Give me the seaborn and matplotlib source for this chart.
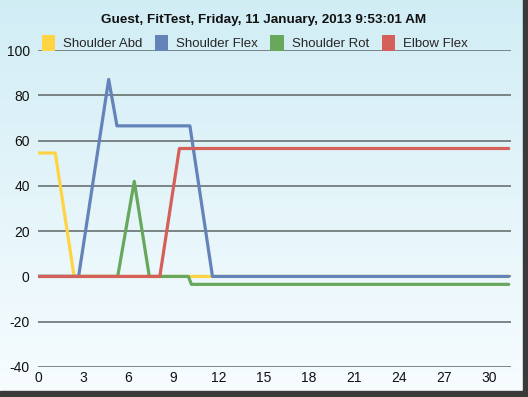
import numpy as np
import pandas as pd
import matplotlib
matplotlib.use("Agg")
import matplotlib.pyplot as plt
from matplotlib.patches import Patch, Rectangle
import seaborn as sns

title = "Guest, FitTest, Friday, 11 January, 2013 9:53:01 AM"
series = ["Shoulder Abd", "Shoulder Flex", "Shoulder Rot", "Elbow Flex"]
colors = ["#ffd443", "#6383b9", "#67a85d", "#d5605a"]

abd_t = [0.0, 1.15, 2.4, 10.1, 11.5, 31.3]
abd_v = [54.5, 54.5, 0.0, 0.0, 0.0, 0.0]
flex_t = [0.0, 2.7, 4.7, 5.25, 10.1, 11.6, 31.3]
flex_v = [0.0, 0.0, 87.0, 66.5, 66.5, 0.0, 0.0]
rot_t = [0.0, 5.3, 6.4, 7.4, 10.0, 10.2, 31.3]
rot_v = [0.0, 0.0, 42.0, 0.0, 0.0, -3.5, -3.5]
elb_t = [0.0, 8.1, 9.4, 31.3]
elb_v = [0.0, 0.0, 56.5, 56.5]

xticks = list(range(0, 31, 3))
yticks = list(range(-40, 101, 20))

frames = []
for name, t, v in [(series[0], abd_t, abd_v), (series[1], flex_t, flex_v),
                   (series[2], rot_t, rot_v), (series[3], elb_t, elb_v)]:
    frames.append(pd.DataFrame({"t": t, "v": v, "s": name}))
df = pd.concat(frames, ignore_index=True)

sns.set_theme(style="white")
plt.rcParams['font.family'] = ['Liberation Sans', 'DejaVu Sans']
plt.rcParams['axes.unicode_minus'] = False

fig = plt.figure(figsize=(5.28, 3.97), dpi=100)

# background gradient
bg = fig.add_axes([0, 0, 1, 1], zorder=-10)
grad = np.linspace(0, 1, 256).reshape(-1, 1)
top = np.array([0.82, 0.93, 0.96])
bot = np.array([0.97, 0.99, 1.0])
img = top[None, None, :] * (1 - grad[:, :, None]) + bot[None, None, :] * grad[:, :, None]
bg.imshow(img, aspect="auto", extent=[0, 1, 0, 1], origin="upper")
bg.set_xlim(0, 1); bg.set_ylim(0, 1)
bg.axis("off")
# frame shadow right/bottom
bg.add_patch(Rectangle((1 - 5.5 / 528, 0), 5.5 / 528, 1, color="#3a3a3a", transform=bg.transAxes, zorder=5))
bg.add_patch(Rectangle((0, 0), 1, 6 / 397, color="#3a3a3a", transform=bg.transAxes, zorder=5))

ax = fig.add_axes([38 / 528, 1 - 367 / 397, (511 - 38) / 528, (367 - 50) / 397])
ax.set_facecolor("none")
sns.lineplot(data=df, x="t", y="v", hue="s", palette=colors, hue_order=series,
             estimator=None, sort=False, linewidth=2.3, ax=ax, legend=False)
for ln, z in zip(ax.lines, [2, 2.8, 2.5, 3]):
    ln.set_zorder(z)

ax.set_xlim(0, 31.45)
ax.set_ylim(-40, 100)
ax.set_xticks(xticks)
ax.set_yticks(yticks)
ax.set_xlabel("")
ax.set_ylabel("")
for sp in ax.spines.values():
    sp.set_visible(False)
for y in yticks:
    ax.axhline(y, color="#5f6666", lw=1.1, zorder=1)
ax.tick_params(axis="both", length=0, labelsize=10, colors="#111111")
ax.tick_params(axis="y", pad=6)
ax.tick_params(axis="x", pad=3)

fig.text(0.5, 1 - 20 / 397, title, ha="center", va="center", fontsize=9.7,
         fontweight="bold", color="#111111")

handles = [Patch(facecolor=c, edgecolor="none") for c in colors]
fig.legend(handles, series, loc="center left", bbox_to_anchor=(41.5 / 528, 1 - 43.5 / 397),
           ncol=4, frameon=False, fontsize=9.5, handlelength=1.0, handleheight=1.0,
           handletextpad=0.6, columnspacing=0.97, borderaxespad=0, borderpad=0)
for p in fig.legends[0].get_patches():
    p.set_height(p.get_height() * 1.35)
    p.set_y(p.get_y() - 1.5)

fig.savefig("out.png", dpi=100)
